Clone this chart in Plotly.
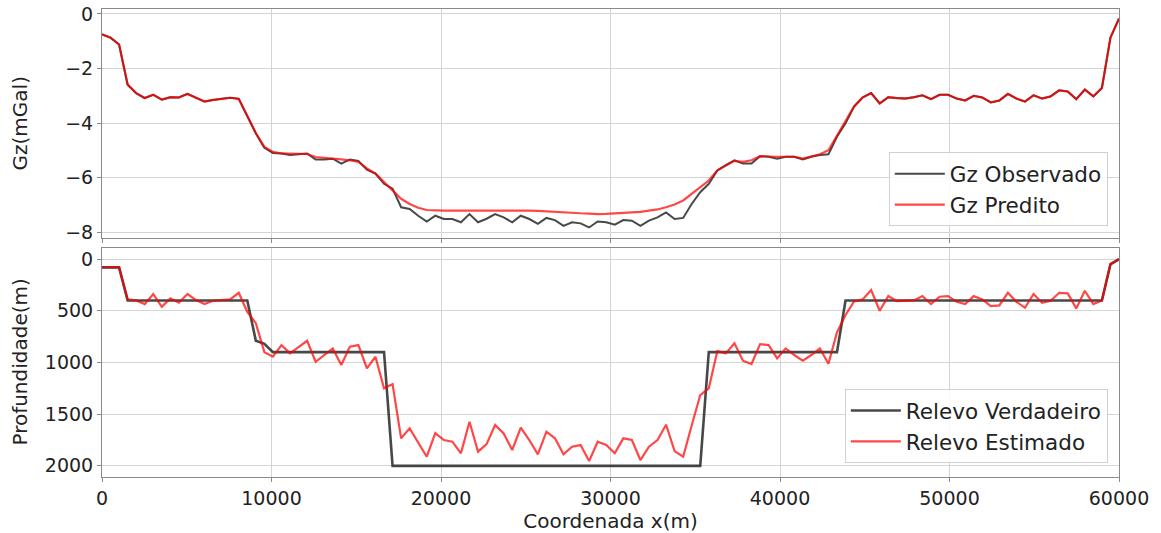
import plotly.graph_objects as go
from plotly.subplots import make_subplots

# Sampling coordinates (m)
x = [0, 504, 1008, 1513, 2017, 2521, 3025, 3529, 4034, 4538,
     5042, 5546, 6050, 6555, 7059, 7563, 8067, 8571, 9076, 9580,
     10084, 10588, 11092, 11597, 12101, 12605, 13109, 13613, 14118, 14622,
     15126, 15630, 16134, 16639, 17143, 17647, 18151, 18655, 19160, 19664,
     20168, 20672, 21176, 21681, 22185, 22689, 23193, 23697, 24202, 24706,
     25210, 25714, 26218, 26723, 27227, 27731, 28235, 28739, 29244, 29748,
     30252, 30756, 31261, 31765, 32269, 32773, 33277, 33782, 34286, 34790,
     35294, 35798, 36303, 36807, 37311, 37815, 38319, 38824, 39328, 39832,
     40336, 40840, 41345, 41849, 42353, 42857, 43361, 43866, 44370, 44874,
     45378, 45882, 46387, 46891, 47395, 47899, 48403, 48908, 49412, 49916,
     50420, 50924, 51429, 51933, 52437, 52941, 53445, 53950, 54454, 54958,
     55462, 55966, 56471, 56975, 57479, 57983, 58487, 58992, 59496, 60000]

gz_pred = [-0.75, -0.87, -1.12, -2.59, -2.90, -3.08, -2.96, -3.14, -3.05, -3.06,
           -2.93, -3.06, -3.21, -3.15, -3.11, -3.07, -3.11, -3.76, -4.37, -4.87,
           -5.05, -5.11, -5.11, -5.11, -5.13, -5.24, -5.28, -5.30, -5.33, -5.36,
           -5.42, -5.66, -5.85, -6.16, -6.46, -6.77, -6.96, -7.10, -7.18, -7.20,
           -7.20, -7.20, -7.20, -7.20, -7.20, -7.20, -7.18, -7.18, -7.18, -7.19,
           -7.20, -7.21, -7.23, -7.24, -7.28, -7.29, -7.30, -7.31, -7.33, -7.32,
           -7.30, -7.29, -7.27, -7.25, -7.20, -7.16, -7.08, -6.98, -6.83, -6.59,
           -6.34, -6.10, -5.73, -5.54, -5.38, -5.42, -5.36, -5.21, -5.23, -5.23,
           -5.23, -5.23, -5.30, -5.23, -5.14, -4.99, -4.44, -3.94, -3.39, -3.06,
           -2.90, -3.28, -3.05, -3.08, -3.10, -3.05, -2.98, -3.12, -2.96, -2.96,
           -3.10, -3.17, -3.00, -3.06, -3.24, -3.17, -2.93, -3.10, -3.21, -2.98,
           -3.10, -3.02, -2.80, -2.84, -3.12, -2.77, -3.02, -2.71, -0.87, -0.17]

gz_obs = [-0.75, -0.87, -1.12, -2.59, -2.90, -3.08, -2.96, -3.14, -3.05, -3.06,
          -2.93, -3.06, -3.21, -3.15, -3.11, -3.07, -3.11, -3.76, -4.37, -4.90,
          -5.09, -5.11, -5.17, -5.14, -5.11, -5.33, -5.33, -5.30, -5.48, -5.33,
          -5.38, -5.70, -5.85, -6.22, -6.40, -7.08, -7.14, -7.39, -7.60, -7.39,
          -7.51, -7.51, -7.63, -7.33, -7.63, -7.50, -7.33, -7.45, -7.63, -7.39,
          -7.51, -7.69, -7.47, -7.55, -7.76, -7.63, -7.67, -7.82, -7.60, -7.63,
          -7.72, -7.55, -7.57, -7.76, -7.57, -7.45, -7.27, -7.51, -7.47, -6.96,
          -6.53, -6.22, -5.73, -5.54, -5.36, -5.48, -5.48, -5.21, -5.23, -5.30,
          -5.23, -5.23, -5.33, -5.23, -5.17, -5.14, -4.50, -4.00, -3.39, -3.06,
          -2.90, -3.28, -3.05, -3.08, -3.10, -3.05, -2.98, -3.12, -2.96, -2.96,
          -3.10, -3.17, -3.00, -3.06, -3.24, -3.17, -2.93, -3.10, -3.21, -2.98,
          -3.10, -3.02, -2.80, -2.84, -3.12, -2.77, -3.02, -2.71, -0.87, -0.17]

relevo_true = [80, 80, 80, 400, 400, 400, 400, 400, 400, 400,
               400, 400, 400, 400, 400, 400, 400, 400, 790, 820,
               900, 900, 900, 900, 900, 900, 900, 900, 900, 900,
               900, 900, 900, 900, 2000, 2000, 2000, 2000, 2000, 2000,
               2000, 2000, 2000, 2000, 2000, 2000, 2000, 2000, 2000, 2000,
               2000, 2000, 2000, 2000, 2000, 2000, 2000, 2000, 2000, 2000,
               2000, 2000, 2000, 2000, 2000, 2000, 2000, 2000, 2000, 2000,
               2000, 900, 900, 900, 900, 900, 900, 900, 900, 900,
               900, 900, 900, 900, 900, 900, 900, 400, 400, 400,
               400, 400, 400, 400, 400, 400, 400, 400, 400, 400,
               400, 400, 400, 400, 400, 400, 400, 400, 400, 400,
               400, 400, 400, 400, 400, 400, 400, 400, 50, 0]

relevo_est = [80, 80, 80, 390, 400, 435, 338, 461, 380, 422,
              338, 396, 435, 403, 400, 390, 326, 510, 620, 900,
              944, 832, 912, 850, 790, 993, 930, 864, 1025, 848,
              832, 1057, 944, 1250, 1209, 1734, 1637, 1780, 1912, 1683,
              1750, 1766, 1879, 1573, 1863, 1790, 1605, 1686, 1847, 1631,
              1750, 1889, 1670, 1734, 1889, 1815, 1799, 1953, 1767, 1799,
              1879, 1734, 1750, 1944, 1815, 1750, 1602, 1858, 1912, 1610,
              1315, 1250, 890, 912, 815, 983, 1015, 822, 832, 961,
              864, 928, 983, 928, 864, 1012, 710, 540, 410, 390,
              300, 500, 358, 406, 403, 400, 358, 435, 364, 358,
              413, 435, 358, 390, 455, 448, 326, 413, 471, 338,
              422, 403, 326, 332, 477, 306, 435, 400, 48, 0]

x_ticks = [0, 10000, 20000, 30000, 40000, 50000, 60000]
gz_ticks = [0, -2, -4, -6, -8]
prof_ticks = [0, 500, 1000, 1500, 2000]

FONT = "DejaVu Sans"
BLACK = "rgba(20,20,20,0.78)"
RED = "rgba(255,0,0,0.72)"
GRID = "#d4d4d4"
FRAME = "#8a8a8a"

fig = make_subplots(rows=2, cols=1, shared_xaxes=True)

fig.add_trace(go.Scatter(x=x, y=gz_obs, mode="lines", name="Gz Observado",
                         line=dict(color=BLACK, width=2), legend="legend"),
              row=1, col=1)
fig.add_trace(go.Scatter(x=x, y=gz_pred, mode="lines", name="Gz Predito",
                         line=dict(color=RED, width=2.2), legend="legend"),
              row=1, col=1)
fig.add_trace(go.Scatter(x=x, y=relevo_true, mode="lines", name="Relevo Verdadeiro",
                         line=dict(color=BLACK, width=2.6), legend="legend2"),
              row=2, col=1)
fig.add_trace(go.Scatter(x=x, y=relevo_est, mode="lines", name="Relevo Estimado",
                         line=dict(color=RED, width=2.2), legend="legend2"),
              row=2, col=1)

axis_common = dict(showgrid=True, gridcolor=GRID, gridwidth=1,
                   showline=True, linecolor=FRAME, linewidth=1, mirror=True,
                   zeroline=False, ticks="outside", ticklen=4, tickcolor=FRAME,
                   ticklabeloverflow="allow",
                   tickfont=dict(family=FONT, size=19, color="#222"))

fig.update_xaxes(range=[0, 60000], tickvals=x_ticks, tickformat="d", **axis_common)
fig.update_xaxes(showticklabels=False, row=1, col=1)
fig.update_xaxes(title=dict(text="Coordenada x(m)", font=dict(family=FONT, size=20, color="#222"),
                            standoff=8), row=2, col=1)

fig.update_yaxes(range=[-8.2, 0.18], tickvals=gz_ticks, domain=[0.511, 1.0],
                 **axis_common, row=1, col=1)
fig.update_yaxes(range=[2108, -106], tickvals=prof_ticks, domain=[0.0, 0.489],
                 **axis_common, row=2, col=1)

legend_style = dict(xanchor="right", yanchor="bottom", itemwidth=50,
                    bgcolor="rgba(255,255,255,0.85)", bordercolor="#d0d0d0", borderwidth=1,
                    font=dict(family=FONT, size=21.5, color="#222"), tracegroupgap=0)

fig.update_layout(
    width=1161, height=533,
    margin=dict(l=102, r=42, t=9, b=56, autoexpand=False),
    paper_bgcolor="white", plot_bgcolor="white",
    font=dict(family=FONT, color="#222"),
    legend=dict(x=0.989, y=0.536, **legend_style),
    legend2=dict(x=0.989, y=0.03, **legend_style),
    annotations=[
        dict(text="Gz(mGal)", textangle=-90, xref="paper", yref="paper",
             x=0, y=0.7555, xanchor="center", yanchor="middle", xshift=-82,
             showarrow=False, font=dict(family=FONT, size=20, color="#222")),
        dict(text="Profundidade(m)", textangle=-90, xref="paper", yref="paper",
             x=0, y=0.2445, xanchor="center", yanchor="middle", xshift=-82,
             showarrow=False, font=dict(family=FONT, size=20, color="#222")),
    ],
)

# remove the default page margin so the figure fills the browser window
fig.write_html("out.html", config={"displayModeBar": False},
               post_script="document.body.style.margin='0px';")
